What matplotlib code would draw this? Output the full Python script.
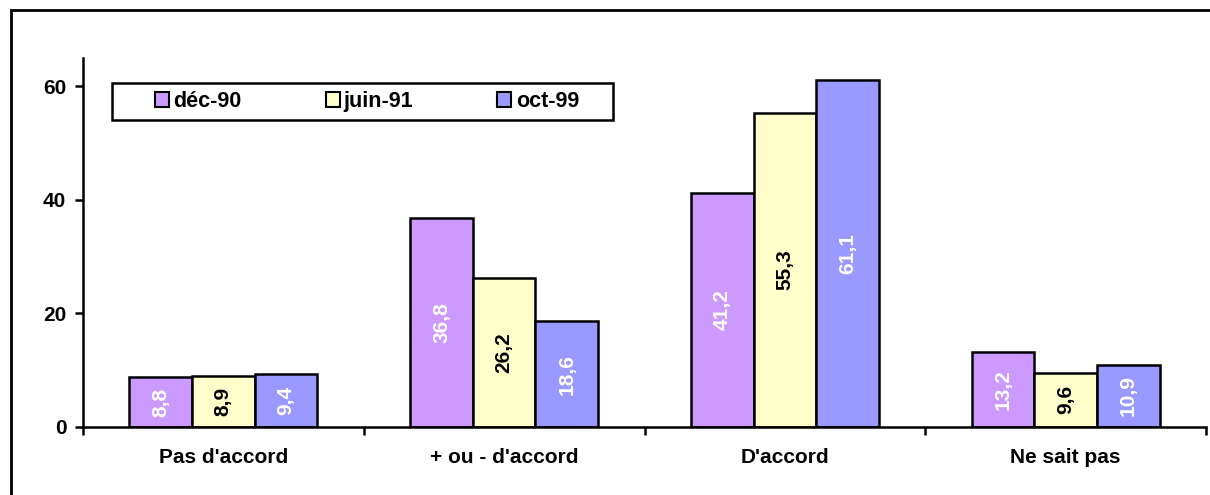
import numpy as np
import matplotlib.pyplot as plt
from matplotlib.patches import Rectangle

plt.rcParams['font.family'] = ['Liberation Sans', 'DejaVu Sans']

categories = ["Pas d'accord", "+ ou - d'accord", "D'accord", "Ne sait pas"]
series = ['déc-90', 'juin-91', 'oct-99']
dec90 = [8.8, 36.8, 41.2, 13.2]
juin91 = [8.9, 26.2, 55.3, 9.6]
oct99 = [9.4, 18.6, 61.1, 10.9]

colors = ['#CC99FF', '#FFFFCC', '#9999FF']
txt_colors = ['white', 'black', 'white']

fig = plt.figure(figsize=(12.1, 4.95), dpi=100)
ax = fig.add_axes([83/1210, 1-427/495, 1123/1210, 369/495])

x = np.arange(len(categories))
w = 0.223
for i, (vals, c, tc) in enumerate(zip([dec90, juin91, oct99], colors, txt_colors)):
    pos = x + (i - 1) * w
    bars = ax.bar(pos, vals, width=w, color=c, edgecolor='black', linewidth=1.8, label=series[i])
    for b, v in zip(bars, vals):
        ax.text(b.get_x() + w/2, v/2, f'{v:.1f}'.replace('.', ','), rotation=90,
                ha='center', va='center', color=tc, fontsize=15, fontweight='bold')

ax.set_xlim(-0.5, 3.5)
ax.set_ylim(0, 65)
ax.set_yticks([0, 20, 40, 60])
ax.set_yticklabels(['0', '20', '40', '60'], fontsize=15, fontweight='bold')
ax.set_xticks(x)
ax.set_xticklabels(categories, fontsize=15, fontweight='bold')
ax.tick_params(axis='x', length=0, pad=15)
ax.set_xticks([-0.5, 0.5, 1.5, 2.5, 3.5], minor=True)
ax.tick_params(axis='x', which='minor', length=6, width=1.8, direction='out')
ax.tick_params(axis='y', length=6, width=1.8, direction='out', pad=6)
for s in ['top', 'right']:
    ax.spines[s].set_visible(False)
for s in ['left', 'bottom']:
    ax.spines[s].set_linewidth(1.8)

# legend box drawn separately (entries are offset inside the box)
ax.add_patch(Rectangle((29/1123, 307/369), 501/1123, 37/369, transform=ax.transAxes,
                       fill=False, edgecolor='black', linewidth=1.8, clip_on=False, zorder=5))
leg = ax.legend(loc='center left', bbox_to_anchor=(72/1123, 325.5/369), ncol=3, frameon=False,
                prop={'weight': 'bold', 'size': 15.5},
                handlelength=0.65, handleheight=0.65, handletextpad=0.2, columnspacing=3.9,
                borderpad=0, borderaxespad=0)
for h in leg.legend_handles:
    h.set_linewidth(1.5)

fig.patches.append(Rectangle((11/1210, -0.1), 1.2, 1.1 - 10/495, transform=fig.transFigure,
                             fill=False, edgecolor='black', linewidth=2))

fig.savefig('out.png', dpi=100)
